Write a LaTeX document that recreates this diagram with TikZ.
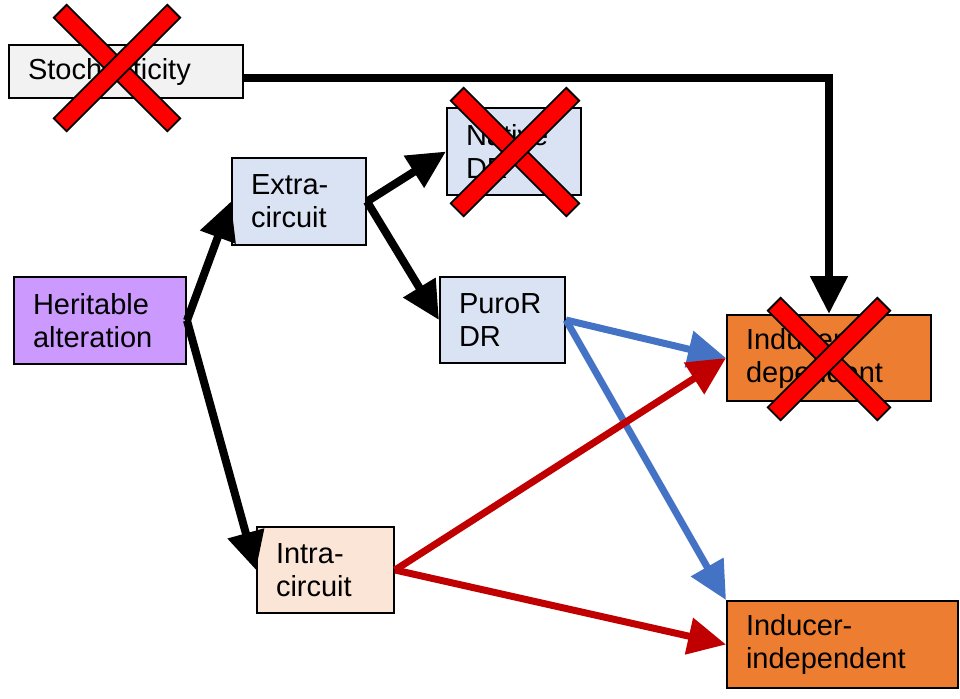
\documentclass[tikz,border=0pt]{standalone}
\usepackage{fontspec}
\setmainfont{Liberation Sans}
\usetikzlibrary{arrows.meta, calc}
\definecolor{PaleGray}{HTML}{F2F2F2}
\definecolor{PaleBlue}{HTML}{DAE3F3}
\definecolor{PalePeach}{HTML}{FBE5D6}
\definecolor{Lilac}{HTML}{CC99FF}
\definecolor{DeepOrange}{HTML}{ED7D31}
\definecolor{LinkBlue}{HTML}{4472C4}
\definecolor{LinkRed}{HTML}{C00000}
\definecolor{CrossRed}{HTML}{FF0000}

\begin{document}
\begin{tikzpicture}[
        x=0.5pt, y=-0.5pt,
        box/.style 2 args={rectangle, draw=black, line width=1pt, align=left, inner xsep=9.5pt, inner ysep=0pt, text width=#1, minimum height=#2, font=\fontsize{14.5}{16.5}\selectfont},
        link/.style={-{Triangle[length=19pt, width=18pt]}, line width=4pt, line join=miter},
        crossedge/.style={line width=10pt, line cap=butt, black, shorten <=-1pt, shorten >=-1pt},
        crossbar/.style={line width=8pt, line cap=butt, CrossRed}
    ]
        \useasboundingbox (0,0) rectangle (960,698);

        % Sources
        \node[box={98pt}{26.5pt}, fill=PaleGray] (stoch) at (126,71.5) {Stochasticity};
        \node[box={67pt}{43.5pt}, fill=Lilac] (herit) at (100,320.5) {Heritable\\alteration};

        % Circuit level
        \node[box={48pt}{43.5pt}, fill=PaleBlue] (extra) at (299,201.5) {Extra-\\circuit};
        \node[box={49.5pt}{43pt}, fill=PalePeach] (intra) at (325.5,570) {Intra-\\circuit};

        % Drug resistance
        \node[box={48pt}{43.5pt}, fill=PaleBlue] (native) at (514,151.5) {Native\\DR};
        \node[box={43.5pt}{43pt}, fill=PaleBlue] (puro) at (502.5,320) {PuroR\\DR};

        % Outcomes
        \node[box={83pt}{43pt}, fill=DeepOrange] (inddep) at (829,358) {Inducer-\\dependent};
        \node[box={96.5pt}{43.5pt}, fill=DeepOrange] (indind) at (842.5,644.5) {Inducer-\\independent};

        % Connections
        \draw[link] ([yshift=-3.25pt]stoch.east) -| (inddep.north);
        \draw[link] (herit.east) -- (extra.west);
        \draw[link] (herit.east) -- (intra.west);
        \draw[link] (extra.east) -- (native.west);
        \draw[link] (extra.east) -- (puro.west);
        \draw[link, line width=3.5pt, LinkBlue] (puro.east) -- (inddep.west);
        \draw[link, line width=3.5pt, LinkBlue] (puro.east) -- (indind.north west);
        \draw[link, line width=3.5pt, LinkRed] (intra.east) -- (inddep.west);
        \draw[link, line width=3.5pt, LinkRed] (intra.east) -- (indind.west);

        % Crossed-out paths
        \foreach \cx/\cy/\r in {117/68/56, 515/152/57, 829/359/54} {
            \draw[crossedge] (\cx-\r,\cy-\r) -- (\cx+\r,\cy+\r);
            \draw[crossbar] (\cx-\r,\cy-\r) -- (\cx+\r,\cy+\r);
            \draw[crossedge] (\cx+\r,\cy-\r) -- (\cx-\r,\cy+\r);
            \draw[crossbar] (\cx+\r,\cy-\r) -- (\cx-\r,\cy+\r);
        }
    \end{tikzpicture}
\end{document}
